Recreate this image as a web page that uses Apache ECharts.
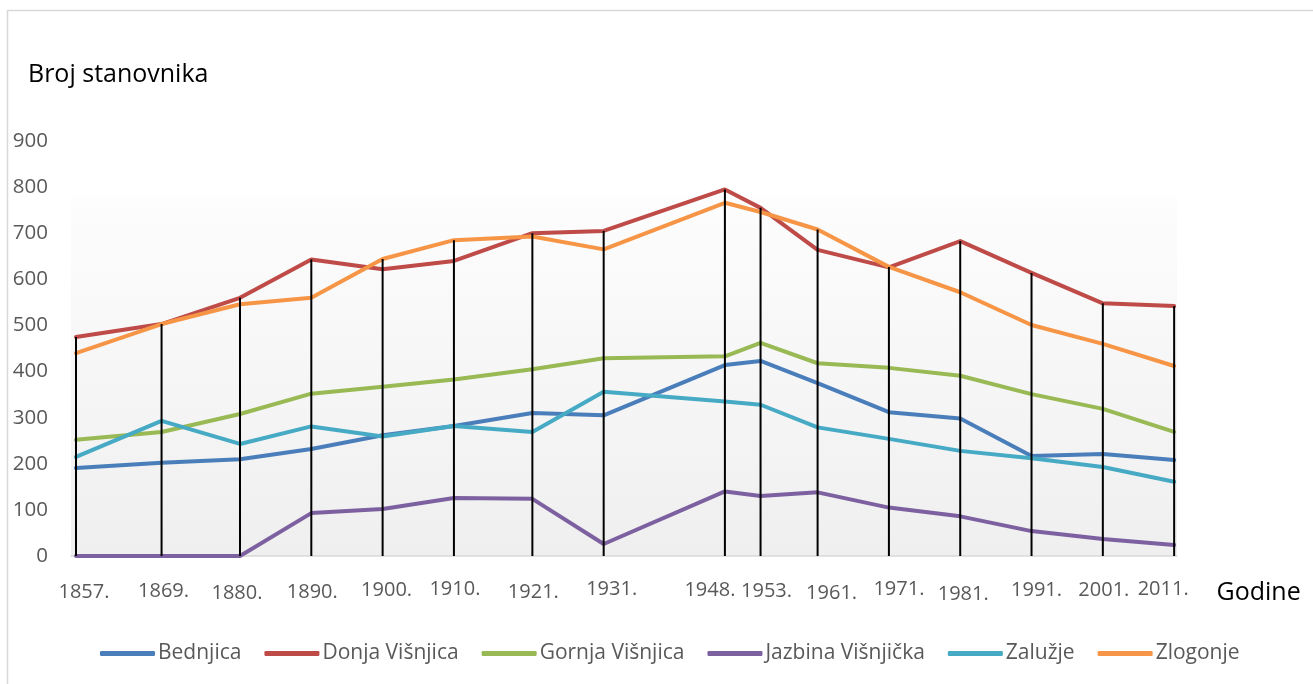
<!DOCTYPE html>
<html>
<head>
<meta charset="utf-8">
<script src="https://cdn.jsdelivr.net/npm/echarts@6/dist/echarts.min.js"></script>
<style>html,body{margin:0;padding:0;background:#fff}#c{width:1313px;height:684px}</style>
</head>
<body>
<div id="c"></div>
<script>
// ---- data ----
const years = [1857, 1869, 1880, 1890, 1900, 1910, 1921, 1931, 1948, 1953, 1961, 1971, 1981, 1991, 2001, 2011];
const tickLabels = ['1857.', '1869.', '1880.', '1890.', '1900.', '1910.', '1921.', '1931.', '1948.', '1953.', '1961.', '1971.', '1981.', '1991.', '2001.', '2011.'];
const seriesNames = ['Bednjica', 'Donja Višnjica', 'Gornja Višnjica', 'Jazbina Višnjička', 'Zalužje', 'Zlogonje'];
const bednjica = [191, 202, 210, 232, 262, 282, 310, 305, 414, 423, 375, 312, 298, 217, 221, 208];
const donjaVisnjica = [475, 503, 560, 643, 622, 640, 700, 705, 795, 755, 664, 626, 683, 614, 548, 542];
const gornjaVisnjica = [252, 269, 308, 352, 367, 383, 405, 429, 433, 462, 418, 408, 391, 351, 319, 269];
const jazbinaVisnjicka = [0, 0, 0, 93, 102, 126, 124, 26, 140, 130, 138, 105, 86, 54, 37, 24];
const zaluzje = [215, 293, 243, 281, 259, 282, 269, 356, 335, 328, 279, 254, 228, 212, 193, 161];
const zlogonje = [440, 503, 546, 560, 644, 685, 693, 665, 766, 746, 708, 627, 572, 501, 460, 412];
const yTicks = [0, 100, 200, 300, 400, 500, 600, 700, 800, 900];

// ---- layout / style (not data) ----
const labelDx = [8, 2, -3, 1, 4, 1, 1, 8, -15, 6, 14, 10, 3, 5, 1, -11];
const labelDy = [6, 5, 8, 7, 3, 0, 6, 0, 2, 4, 8, 1, 10, 3, 3, 1];
const colors = ['#4a7ebb', '#be4b48', '#98b954', '#7d60a0', '#46aac5', '#f69546'];
const FONT = 'Open Sans';

const allSeries = [bednjica, donjaVisnjica, gornjaVisnjica, jazbinaVisnjicka, zaluzje, zlogonje];
const dropData = years.map((y, i) => [y, Math.max(...allSeries.map(s => s[i]))]);

const rich = {};
years.forEach((y, i) => {
  const dx = labelDx[i];
  rich['l' + i] = {
    fontFamily: FONT, fontSize: 20, color: '#595959', lineHeight: 20,
    padding: [labelDy[i], dx < 0 ? -2 * dx : 0, 0, dx > 0 ? 2 * dx : 0]
  };
});

const chart = echarts.init(document.getElementById('c'));
chart.setOption({
  animation: false,
  backgroundColor: '#ffffff',
  title: {
    text: 'Broj stanovnika', left: 23, top: 57,
    textStyle: { fontFamily: FONT, fontSize: 25, fontWeight: 'normal', color: '#000000' }
  },
  graphic: [{
    type: 'rect', shape: { x: 7.5, y: 10.5, width: 1400, height: 800 },
    style: { fill: 'none', stroke: '#d9d9d9', lineWidth: 1.5 }, silent: true, z: -10
  }],
  legend: {
    data: seriesNames, left: 100, top: 643, padding: 0, icon: 'roundRect',
    itemWidth: 55, itemHeight: 5, itemGap: 23,
    textStyle: { fontFamily: FONT, fontSize: 21, color: '#595959', padding: [0, 0, 0, -2] }
  },
  grid: {
    left: 71, right: 136, top: 141, bottom: 128, show: true, borderWidth: 0,
    backgroundColor: new echarts.graphic.LinearGradient(0, 0, 0, 1, [
      { offset: 0, color: '#ffffff' }, { offset: 0.134, color: '#ffffff' },
      { offset: 0.136, color: '#fdfdfd' }, { offset: 1, color: '#efefef' }
    ])
  },
  xAxis: {
    type: 'value', min: 1856.3, max: 2011.4,
    name: 'Godine', nameLocation: 'end', nameGap: 36,
    nameTextStyle: { fontFamily: FONT, fontSize: 25, color: '#000000', verticalAlign: 'top', lineHeight: 26, padding: [24, 0, 0, 0] },
    axisLine: { show: true, lineStyle: { color: '#d9d9d9', width: 1.5 } },
    axisTick: { show: false },
    splitLine: { show: false },
    axisLabel: {
      customValues: years, margin: 23, hideOverlap: false,
      formatter: function (v) { const i = years.indexOf(v); return '{l' + i + '|' + tickLabels[i] + '}'; },
      rich: rich
    }
  },
  yAxis: {
    type: 'value', min: 0, max: 900, interval: 100,
    axisLine: { show: false }, axisTick: { show: false }, splitLine: { show: false },
    axisLabel: {
      margin: 23, fontFamily: FONT, fontSize: 20.5, color: '#595959',
      formatter: function (v) { return yTicks.indexOf(v) >= 0 ? String(v) : ''; }
    }
  },
  series: seriesNames.map((n, k) => ({
    name: n, type: 'line', data: years.map((y, i) => [y, allSeries[k][i]]),
    symbol: 'none', smooth: false, color: colors[k],
    lineStyle: { width: 4, color: colors[k], cap: 'round', join: 'round' }, z: 2
  })).concat([{
    name: 'drop', type: 'custom', z: 5, data: dropData, encode: { x: 0, y: 1 },
    renderItem: function (params, api) {
      const x = api.value(0), top = api.value(1);
      const p0 = api.coord([x, 0]), p1 = api.coord([x, top]);
      return { type: 'line', shape: { x1: p0[0], y1: p0[1], x2: p1[0], y2: p1[1] }, style: { stroke: '#000000', lineWidth: 2 } };
    }
  }])
});
</script>
</body>
</html>
